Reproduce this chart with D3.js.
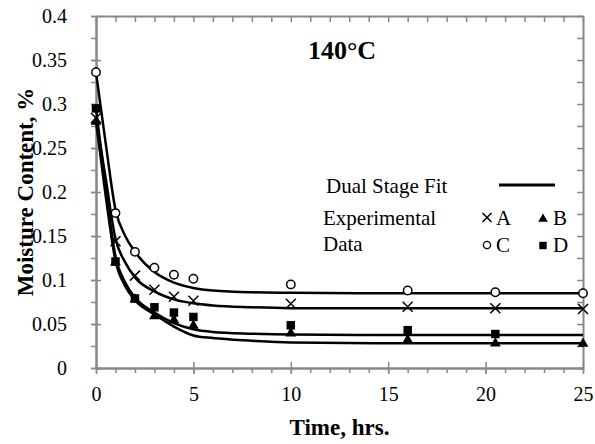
<!DOCTYPE html>
<html>
<head>
<meta charset="utf-8">
<script src="https://cdn.jsdelivr.net/npm/d3@7"></script>
<style>
  body { margin: 0; background: #fff; }
  svg, svg text { font-family: "Times New Roman", Times, "Liberation Serif", "Nimbus Roman", "DejaVu Serif", serif; }
</style>
</head>
<body>
<div id="chart"></div>
<script>
// measured points (time in hrs, moisture content)
var times = [0, 1, 2, 3, 4, 5, 10, 16, 20.5, 25];
var seriesA = [0.284, 0.144, 0.105, 0.089, 0.081, 0.0765, 0.073, 0.0697, 0.068, 0.067];
var seriesB = [0.280, 0.120, 0.078, 0.059, 0.0545, 0.048, 0.0394, 0.032, 0.028, 0.0276];
var seriesC = [0.336, 0.176, 0.132, 0.114, 0.106, 0.1015, 0.095, 0.088, 0.086, 0.085];
var seriesD = [0.295, 0.121, 0.079, 0.069, 0.063, 0.058, 0.0485, 0.043, 0.0386, null];

// dual stage fit curves
var fitTimes = [0, 0.5, 1, 1.5, 2, 3, 4, 5, 6, 8, 10, 15, 20, 25];
var fitA = [0.284, 0.215, 0.147, 0.120, 0.103, 0.087, 0.078, 0.0735, 0.071, 0.069, 0.068, 0.0678, 0.0678, 0.0678];
var fitB = [0.280, 0.195, 0.122, 0.093, 0.077, 0.061, 0.047, 0.037, 0.034, 0.031, 0.029, 0.028, 0.028, 0.028];
var fitC = [0.336, 0.255, 0.180, 0.150, 0.132, 0.109, 0.097, 0.091, 0.088, 0.086, 0.0855, 0.085, 0.085, 0.085];
var fitD = [0.295, 0.205, 0.127, 0.097, 0.080, 0.063, 0.051, 0.044, 0.041, 0.039, 0.038, 0.0375, 0.0375, 0.0375];

var xTicks = [0, 5, 10, 15, 20, 25];
var yTicks = [0, 0.05, 0.1, 0.15, 0.2, 0.25, 0.3, 0.35, 0.4];
var titleText = "140°C";

var margin = {top: 16, right: 12, bottom: 76, left: 96},
    width = 595 - margin.left - margin.right,
    height = 444 - margin.top - margin.bottom;

var axisColor = "#888888";
var serif = "'Times New Roman', Times, 'Liberation Serif', 'Nimbus Roman', 'DejaVu Serif', serif";

var svg = d3.select("#chart").append("svg")
    .attr("width", 595)
    .attr("height", 444)
    .attr("font-family", serif)
    .append("g")
    .attr("transform", "translate(" + margin.left + "," + margin.top + ")");

var xScale = d3.scaleLinear().domain([0, 25]).range([0, width]);
var yScale = d3.scaleLinear().domain([0, 0.4]).range([height, 0]);

var xMinor = d3.range(0, 26, 1);
var yMinor = d3.range(0, 0.401, 0.025);

function styleAxis(g) {
    g.attr("font-family", serif).attr("font-size", 20);
    g.select(".domain").attr("stroke", axisColor).attr("stroke-width", 2);
    g.selectAll(".tick line").attr("stroke", axisColor).attr("stroke-width", 1.5);
    g.selectAll(".tick text").attr("fill", "#000");
}

// top and right frame, ticks pointing in
svg.append("g")
    .call(d3.axisBottom(xScale).tickValues(xMinor).tickSize(6).tickSizeOuter(0).tickFormat(""))
    .call(styleAxis);
svg.append("g")
    .attr("transform", "translate(" + width + ",0)")
    .call(d3.axisLeft(yScale).tickValues(yMinor).tickSize(6).tickSizeOuter(0).tickFormat(""))
    .call(styleAxis);

// bottom axis: minor ticks outside, major ticks crossing
svg.append("g")
    .attr("transform", "translate(0," + height + ")")
    .call(d3.axisBottom(xScale).tickValues(xMinor).tickSize(5).tickSizeOuter(0).tickFormat(""))
    .call(styleAxis);
svg.append("g")
    .attr("transform", "translate(0," + height + ")")
    .call(d3.axisBottom(xScale).tickValues(xTicks).tickSize(6).tickSizeOuter(0).tickFormat(d3.format("")))
    .call(styleAxis)
    .call(g => g.selectAll(".tick line").attr("y1", -6))
    .call(g => g.selectAll(".tick text").attr("y", 33).attr("dy", null));

// left axis
svg.append("g")
    .call(d3.axisLeft(yScale).tickValues(yMinor).tickSize(5).tickSizeOuter(0).tickFormat(""))
    .call(styleAxis);
svg.append("g")
    .call(d3.axisLeft(yScale).tickValues(yTicks).tickSize(5).tickPadding(24).tickSizeOuter(0)
        .tickFormat(d => d3.format("")(+d.toFixed(2))))
    .call(styleAxis)
    .call(g => g.selectAll(".tick line").attr("x1", 5));

// fit lines
var line = d3.line()
    .x(d => xScale(d[0]))
    .y(d => yScale(d[1]))
    .curve(d3.curveMonotoneX);

[fitC, fitA, fitD, fitB].forEach(function(f) {
    svg.append("path")
        .datum(fitTimes.map((t, i) => [t, f[i]]))
        .attr("fill", "none")
        .attr("stroke", "#000")
        .attr("stroke-width", 2.5)
        .attr("d", line);
});

// markers
function pts(vals) {
    return times.map((t, i) => [t, vals[i]]).filter(d => d[1] != null);
}

var tri = d3.symbol().type(d3.symbolTriangle).size(50);
var sq = d3.symbol().type(d3.symbolSquare).size(72);

function drawCross(g, cx, cy, r, w) {
    g.append("path")
        .attr("d", "M" + (cx - r) + "," + (cy - r) + "L" + (cx + r) + "," + (cy + r) +
            "M" + (cx - r) + "," + (cy + r) + "L" + (cx + r) + "," + (cy - r))
        .attr("stroke", "#000").attr("stroke-width", w).attr("fill", "none");
}

svg.append("g").selectAll("path")
    .data(pts(seriesB))
    .join("path")
    .attr("d", tri)
    .attr("transform", d => "translate(" + xScale(d[0]) + "," + yScale(d[1]) + ")")
    .attr("fill", "#000");

svg.append("g").selectAll("path")
    .data(pts(seriesD))
    .join("path")
    .attr("d", sq)
    .attr("transform", d => "translate(" + xScale(d[0]) + "," + yScale(d[1]) + ")")
    .attr("fill", "#000");

var crossG = svg.append("g");
pts(seriesA).forEach(function(d) {
    drawCross(crossG, xScale(d[0]), yScale(d[1]), 5, 1.5);
});

svg.append("g").selectAll("circle")
    .data(pts(seriesC))
    .join("circle")
    .attr("cx", d => xScale(d[0]))
    .attr("cy", d => yScale(d[1]))
    .attr("r", 4.2)
    .attr("fill", "#fff")
    .attr("stroke", "#000")
    .attr("stroke-width", 1.5);

// title inside plot
svg.append("text")
    .attr("x", 342 - margin.left)
    .attr("y", 59 - margin.top)
    .attr("text-anchor", "middle")
    .attr("font-size", 26)
    .attr("font-weight", "bold")
    .text(titleText);

// legend
var leg = svg.append("g").attr("transform", "translate(" + (-margin.left) + "," + (-margin.top) + ")")
    .attr("font-family", serif)
    .attr("font-size", 21);

leg.append("text").attr("x", 326).attr("y", 193).text("Dual Stage Fit");
leg.append("line").attr("x1", 499).attr("x2", 555).attr("y1", 185).attr("y2", 185)
    .attr("stroke", "#000").attr("stroke-width", 3);
leg.append("text").attr("x", 323).attr("y", 225).text("Experimental");
leg.append("text").attr("x", 323).attr("y", 251).text("Data");

drawCross(leg, 487, 217.5, 4.5, 1.5);
leg.append("text").attr("x", 496).attr("y", 225).text("A");
leg.append("path").attr("d", d3.symbol().type(d3.symbolTriangle).size(40))
    .attr("transform", "translate(543,219)");
leg.append("text").attr("x", 553).attr("y", 225).text("B");
leg.append("circle").attr("cx", 487).attr("cy", 245).attr("r", 3.6)
    .attr("fill", "#fff").attr("stroke", "#000").attr("stroke-width", 1.3);
leg.append("text").attr("x", 496).attr("y", 252).text("C");
leg.append("path").attr("d", d3.symbol().type(d3.symbolSquare).size(55))
    .attr("transform", "translate(543,245.5)");
leg.append("text").attr("x", 553).attr("y", 252).text("D");

// axis titles
svg.append("text")
    .attr("x", width / 2)
    .attr("y", 435 - margin.top)
    .attr("text-anchor", "middle")
    .attr("font-size", 23)
    .attr("font-weight", "bold")
    .text("Time, hrs.");

svg.append("text")
    .attr("transform", "rotate(-90)")
    .attr("x", -height / 2)
    .attr("y", 33 - margin.left)
    .attr("text-anchor", "middle")
    .attr("font-size", 23)
    .attr("font-weight", "bold")
    .text("Moisture Content, %");
</script>
</body>
</html>
